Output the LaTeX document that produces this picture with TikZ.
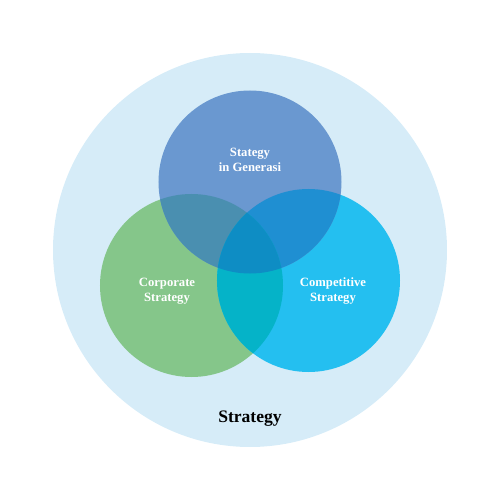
\documentclass[tikz,border=0pt]{standalone}
\usepackage{fontspec}
\setmainfont{Liberation Serif}
\usepackage{tikz}
\definecolor{outerbg}{RGB}{214,236,248}
\definecolor{topblue}{RGB}{106,152,208}
\definecolor{leftgreen}{RGB}{133,198,138}
\definecolor{rightcyan}{RGB}{36,191,240}
\definecolor{topleft}{RGB}{74,143,176}
\definecolor{topright}{RGB}{31,143,210}
\definecolor{leftright}{RGB}{5,179,200}
\definecolor{allthree}{RGB}{14,141,196}
\tikzset{
  setlabel/.style={text=white,align=center,inner sep=0pt,
    font=\bfseries\fontsize{9}{10.5}\selectfont},
  mainlabel/.style={text=black,inner sep=0pt,
    font=\bfseries\fontsize{12.5}{14}\selectfont}
}

\begin{document}
\begin{tikzpicture}[x=2.5mm,y=2.5mm]
  \useasboundingbox (-25,-25) rectangle (25,25);
  \coordinate (cout) at (0,0);
  \coordinate (ctop) at (0,6.8);
  \coordinate (cleft) at (-5.85,-3.55);
  \coordinate (cright) at (5.85,-3.05);
  \def\rad{9.15}

  \fill[outerbg] (cout) circle (19.7);
  \fill[leftgreen] (cleft) circle (\rad);
  \fill[rightcyan] (cright) circle (\rad);
  \fill[topblue] (ctop) circle (\rad);
  % pairwise overlaps
  \begin{scope}
    \clip (ctop) circle (\rad);
    \fill[topleft] (cleft) circle (\rad);
    \fill[topright] (cright) circle (\rad);
  \end{scope}
  \begin{scope}
    \clip (cleft) circle (\rad);
    \fill[leftright] (cright) circle (\rad);
    \clip (cright) circle (\rad);
    \fill[allthree] (ctop) circle (\rad);
  \end{scope}

  \node[setlabel] (ltop) at (0,9.0) {Stategy\\in Generasi};
  \node[setlabel] (lleft) at (-8.3,-4.1) {Corporate\\Strategy};
  \node[setlabel] (lright) at (8.3,-4.1) {Competitive\\Strategy};
  \node[mainlabel] (lmain) at (0,-16.85) {Strategy};
\end{tikzpicture}
\end{document}
